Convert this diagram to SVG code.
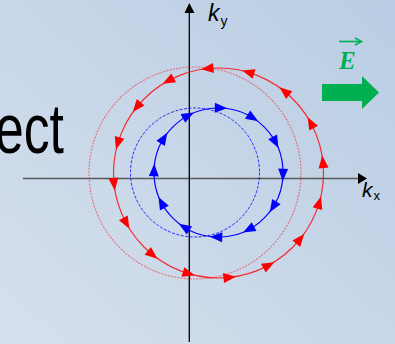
<svg xmlns="http://www.w3.org/2000/svg" width="395" height="344" viewBox="0 0 395 344">
  <defs>
    <linearGradient id="bg" x1="0" y1="1" x2="1" y2="0">
      <stop offset="0" stop-color="#d5e0ed"/>
      <stop offset="1" stop-color="#bacde4"/>
    </linearGradient>
    <path id="ra" d="M0,-6.5 L-5,6 L5,6 Z" fill="#ff0000"/>
    <path id="ba" d="M0,6.5 L-5,-6 L5,-6 Z" fill="#0000ff"/>
  </defs>
  <style>
    .lbl { font-family: "Liberation Sans", Arial, sans-serif; fill: #000; }
    .dashR { fill: none; stroke: #ff0000; stroke-opacity: 0.45; stroke-width: 1.2; stroke-dasharray: 2 1.2; }
    .dashB { fill: none; stroke: #0000ff; stroke-opacity: 0.8; stroke-width: 1; stroke-dasharray: 3 1.5; }
    .solR { fill: none; stroke: #ff0000; stroke-width: 1.2; stroke-opacity: 0.8; }
    .solB { fill: none; stroke: #0000ff; stroke-width: 1.2; }
  </style>
  <rect width="395" height="344" fill="url(#bg)"/>

  <g id="title-fragment">
    <text class="lbl" x="-5" y="153" font-size="70" textLength="69" lengthAdjust="spacingAndGlyphs">ect</text>
  </g>

  <g id="axes">
    <line x1="23" y1="178.5" x2="359" y2="178.5" stroke="#595959" stroke-width="1.6"/>
    <path d="M367,178.5 L358,173 L358,184 Z" fill="#000"/>
    <line x1="189.3" y1="342" x2="189.3" y2="12" stroke="#000" stroke-width="1.3"/>
    <path d="M189.3,3 L184.5,13 L194.5,13 Z" fill="#000"/>
  </g>

  <g id="ky-label">
    <text class="lbl" x="208" y="21" font-size="23" font-style="italic">k</text>
    <text class="lbl" x="220.5" y="26" font-size="14">y</text>
  </g>
  <g id="kx-label">
    <text class="lbl" x="362" y="197" font-size="21" font-style="italic">k</text>
    <text class="lbl" x="373.5" y="199.5" font-size="13">x</text>
  </g>

  <g id="red-equilibrium">
    <circle class="dashR" cx="195" cy="173" r="106"/>
  </g>
  <g id="blue-equilibrium">
    <circle class="dashB" cx="195" cy="172.5" r="64.5"/>
  </g>

  <g id="red-shifted">
    <circle class="solR" cx="218.5" cy="173" r="105"/>
    <use href="#ra" transform="rotate(-6 218.5 173) translate(323.5 173)"/>
    <use href="#ra" transform="rotate(-28.5 218.5 173) translate(323.5 173)"/>
    <use href="#ra" transform="rotate(-51 218.5 173) translate(323.5 173)"/>
    <use href="#ra" transform="rotate(-73.5 218.5 173) translate(323.5 173)"/>
    <use href="#ra" transform="rotate(-96 218.5 173) translate(323.5 173)"/>
    <use href="#ra" transform="rotate(-118.5 218.5 173) translate(323.5 173)"/>
    <use href="#ra" transform="rotate(-141 218.5 173) translate(323.5 173)"/>
    <use href="#ra" transform="rotate(-163.5 218.5 173) translate(323.5 173)"/>
    <use href="#ra" transform="rotate(-186 218.5 173) translate(323.5 173)"/>
    <use href="#ra" transform="rotate(-208.5 218.5 173) translate(323.5 173)"/>
    <use href="#ra" transform="rotate(-231 218.5 173) translate(323.5 173)"/>
    <use href="#ra" transform="rotate(-253.5 218.5 173) translate(323.5 173)"/>
    <use href="#ra" transform="rotate(-276 218.5 173) translate(323.5 173)"/>
    <use href="#ra" transform="rotate(-298.5 218.5 173) translate(323.5 173)"/>
    <use href="#ra" transform="rotate(-321 218.5 173) translate(323.5 173)"/>
    <use href="#ra" transform="rotate(-343.5 218.5 173) translate(323.5 173)"/>
  </g>

  <g id="blue-shifted">
    <circle class="solB" cx="218.5" cy="172.5" r="64.5"/>
    <use href="#ba" transform="rotate(2 218.5 172.5) translate(283 172.5)"/>
    <use href="#ba" transform="rotate(-28 218.5 172.5) translate(283 172.5)"/>
    <use href="#ba" transform="rotate(-58 218.5 172.5) translate(283 172.5)"/>
    <use href="#ba" transform="rotate(-88 218.5 172.5) translate(283 172.5)"/>
    <use href="#ba" transform="rotate(-118 218.5 172.5) translate(283 172.5)"/>
    <use href="#ba" transform="rotate(-148 218.5 172.5) translate(283 172.5)"/>
    <use href="#ba" transform="rotate(-178 218.5 172.5) translate(283 172.5)"/>
    <use href="#ba" transform="rotate(-208 218.5 172.5) translate(283 172.5)"/>
    <use href="#ba" transform="rotate(-238 218.5 172.5) translate(283 172.5)"/>
    <use href="#ba" transform="rotate(-268 218.5 172.5) translate(283 172.5)"/>
    <use href="#ba" transform="rotate(-298 218.5 172.5) translate(283 172.5)"/>
    <use href="#ba" transform="rotate(-328 218.5 172.5) translate(283 172.5)"/>
  </g>

  <g id="field-E">
    <text x="339" y="69" font-family="Liberation Serif, 'Times New Roman', serif" font-size="25" font-weight="bold" font-style="italic" fill="#00b050">E</text>
    <line x1="339" y1="41.5" x2="361" y2="41.5" stroke="#00b050" stroke-width="1.6"/>
    <path d="M355,38 L361.5,41.5 L355,45" fill="none" stroke="#00b050" stroke-width="1.5"/>
    <path d="M322,84 L362,84 L362,76 L379,92.5 L362,109 L362,101 L322,101 Z" fill="#00b050"/>
  </g>
</svg>
